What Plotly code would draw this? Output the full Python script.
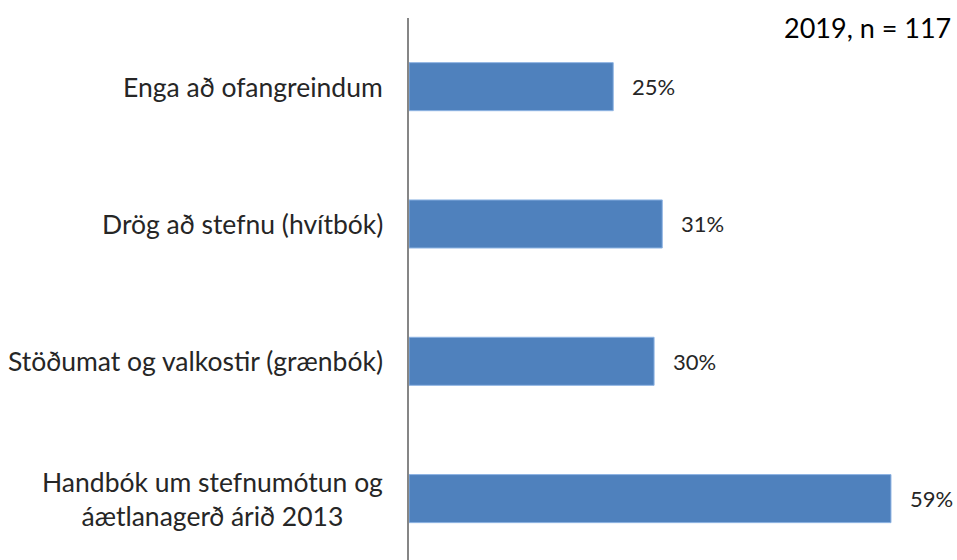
import plotly.graph_objects as go

categories = ["Handbók um stefnumótun og<br>áætlanagerð árið 2013",
              "Stöðumat og valkostir (grænbók)",
              "Drög að stefnu (hvítbók)",
              "Enga að ofangreindum"]
values = [0.59, 0.30, 0.31, 0.25]
value_labels = ["59%", "30%", "31%", "25%"]
title_text = "2019, n = 117"

FONT = "Lato"
fig = go.Figure(go.Bar(
    x=values, y=categories, orientation="h",
    marker=dict(color="#4F81BD", line=dict(color="#8EB4E3", width=1)),
    width=0.35, hoverinfo="skip"))

annotations = []
for c, v, t in zip(categories, values, value_labels):
    annotations.append(dict(x=v, y=c, xref="x", yref="y", text=t, showarrow=False,
                            xanchor="left", xshift=17, font=dict(family=FONT, size=22, color="#262626")))
    annotations.append(dict(x=0, y=c, xref="paper", yref="y", text=c, showarrow=False,
                            xanchor="right", align="center", xshift=-24,
                            font=dict(family=FONT, size=26.5, color="#262626")))
annotations.append(dict(x=1, y=1, xref="paper", yref="paper", text=title_text, showarrow=False,
                        xanchor="right", yanchor="middle", xshift=13, yshift=-9,
                        font=dict(family=FONT, size=27, color="#000000")))

fig.update_layout(
    width=957, height=560,
    margin=dict(l=409, r=17, t=18, b=0),
    paper_bgcolor="white", plot_bgcolor="white",
    showlegend=False,
    xaxis=dict(range=[0, 0.65], visible=False),
    yaxis=dict(type="category", categoryorder="array", categoryarray=categories,
               range=[-0.447, 3.5], showticklabels=False, showgrid=False, zeroline=False,
               showline=True, linecolor="#868686", linewidth=2, ticks=""),
    annotations=annotations,
)
fig.write_html("out.html", config={"displayModeBar": False},
               post_script="document.body.style.margin='0';document.body.style.overflow='hidden';")
